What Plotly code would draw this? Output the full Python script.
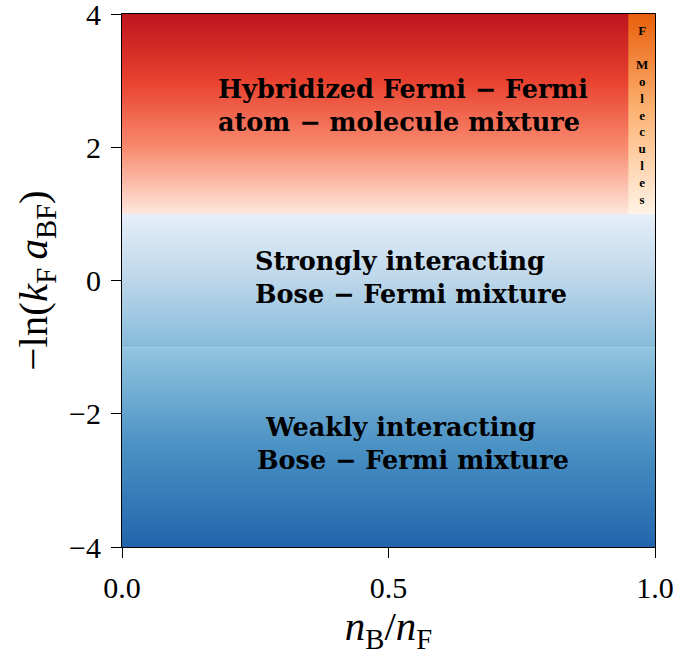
import plotly.graph_objects as go

# Region boundaries along y = -ln(k_F a_BF)
weak_y = [-4, -1]
strong_y = [-1, 1]
hybrid_y = [1, 4]
x_range = [0.0, 1.0]
molecule_x = [0.95, 1.0]

# colours (bottom -> top) for each region
weak_colors = ["#2166ac", "#4a91c4", "#93c5df"]
strong_colors = ["#86bbda", "#bcd6ea", "#e6eff8"]
hybrid_colors = ["#fee7dd", "#f88a6e", "#e8412f", "#be141e"]
molecule_colors = ["#fff3e6", "#fdb577", "#e8600c"]

x_ticks = [0.0, 0.5, 1.0]
x_tick_text = ["0.0", "0.5", "1.0"]
y_ticks = [-4, -2, 0, 2, 4]
y_tick_text = ["\u22124", "\u22122", "0", "2", "4"]

labels = [
    dict(x=0.176, y=2.63, text="Hybridized Fermi \u2212 Fermi<br>atom \u2212 molecule mixture"),
    dict(x=0.246, y=0.05, text="Strongly interacting<br>Bose \u2212 Fermi mixture"),
    dict(x=0.25, y=-2.45, text="\u00a0Weakly interacting<br>Bose \u2212 Fermi mixture"),
]
mol_text = "F<br> <br>M<br>o<br>l<br>e<br>c<br>u<br>l<br>e<br>s"


def scale(colors):
    n = len(colors) - 1
    return [[i / n, c] for i, c in enumerate(colors)]


def rect(xr, yr, colors):
    return go.Scatter(
        x=[xr[0], xr[1], xr[1], xr[0], xr[0]],
        y=[yr[0], yr[0], yr[1], yr[1], yr[0]],
        mode="lines",
        line=dict(width=0),
        fill="toself",
        fillgradient=dict(type="vertical", colorscale=scale(colors)),
        hoverinfo="skip",
        showlegend=False,
    )


fig = go.Figure()
fig.add_trace(rect(x_range, weak_y, weak_colors))
fig.add_trace(rect(x_range, strong_y, strong_colors))
fig.add_trace(rect(x_range, hybrid_y, hybrid_colors))
fig.add_trace(rect(molecule_x, hybrid_y, molecule_colors))

for lab in labels:
    fig.add_annotation(
        x=lab["x"], y=lab["y"], text=lab["text"], showarrow=False,
        xanchor="left", yanchor="middle", align="left",
        font=dict(family="DejaVu Serif", size=25.5, color="black", weight="bold"),
    )

fig.add_annotation(
    x=(molecule_x[0] + molecule_x[1]) / 2, y=2.48, text=mol_text, showarrow=False,
    xanchor="center", yanchor="middle", align="center",
    font=dict(family="Liberation Serif", size=13, color="black", weight="bold"),
)

axis_common = dict(
    showgrid=False, zeroline=False, showline=True, linecolor="black", linewidth=1.2,
    mirror=True, ticks="outside", ticklen=10, tickwidth=1.2, tickcolor="black",
    tickfont=dict(family="Liberation Serif", size=30, color="black"),
    automargin=False, ticklabeloverflow="allow", ticklabelstandoff=4,
)

fig.update_layout(
    width=675, height=655,
    margin=dict(l=122, r=20, t=14, b=108),
    paper_bgcolor="white", plot_bgcolor="white",
    xaxis=dict(
        range=x_range, tickvals=x_ticks, ticktext=x_tick_text,
        title=dict(text="<i>n</i><sub>B</sub>/<i>n</i><sub>F</sub>",
                   font=dict(family="Liberation Serif", size=41, color="black"),
                   standoff=8),
        **axis_common,
    ),
    yaxis=dict(
        range=[weak_y[0], hybrid_y[1]], tickvals=y_ticks, ticktext=y_tick_text,
        title=dict(text="\u2212ln(<i>k</i><sub>F</sub>\u2009<i>a</i><sub>BF</sub>)",
                   font=dict(family="Liberation Serif", size=41, color="black"),
                   standoff=8),
        **axis_common,
    ),
)

fig.write_html(
    "out.html",
    config={"displayModeBar": False},
    post_script="document.body.style.margin='0';document.body.style.overflow='hidden';",
)
